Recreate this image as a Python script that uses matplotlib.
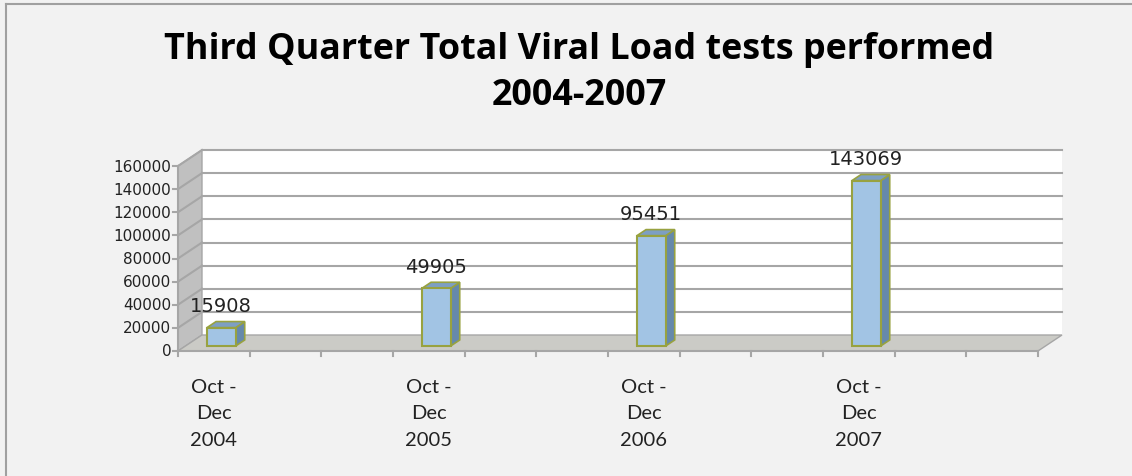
import matplotlib
matplotlib.use("Agg")
import matplotlib.pyplot as plt
import matplotlib.transforms as mtransforms
from matplotlib.patches import Polygon
from matplotlib.lines import Line2D

# data: 12 slots on the category axis, only every third one is used
categories = ["Oct -\nDec\n2004", "", "", "Oct -\nDec\n2005", "", "",
              "Oct -\nDec\n2006", "", "", "Oct -\nDec\n2007", "", ""]
values = [15908, None, None, 49905, None, None, 95451, None, None, 143069, None, None]
yticks = [0, 20000, 40000, 60000, 80000, 100000, 120000, 140000, 160000]
title_lines = ["Third Quarter Total Viral Load tests performed", "2004-2007"]

BG = "#f2f2f2"
GRID = "#a6a6a6"
FRONT = "#a2c4e4"
SIDE = "#6689ab"
TOP = "#7d9fc3"
EDGE = "#98a240"
W, H = 1132, 477

fig = plt.figure(figsize=(W / 100, H / 100), dpi=100, facecolor=BG)

# chart frame (top and left visible)
fig.add_artist(Line2D([6/W, 6/W], [0, 1 - 5/H], color="#a0a0a0", lw=1.5))
fig.add_artist(Line2D([6/W, 1.0], [1 - 5/H, 1 - 5/H], color="#a0a0a0", lw=1.5))

ax = fig.add_axes([178/W, 1 - 352/H, 860/W, 185/H])
n = len(categories)
ymax = yticks[-1]
ax.set_xlim(0, n)
ax.set_ylim(0, ymax)
ax.axis("off")

# depth of the 3D box in data units
ddx = 24 / 860 * n
ddy = 16 / 185 * ymax

# back wall
ax.add_patch(Polygon([(ddx, ddy), (n + ddx, ddy), (n + ddx, ymax + ddy), (ddx, ymax + ddy)],
                     closed=True, facecolor="white", edgecolor="none", clip_on=False, zorder=1))
# left wall
ax.add_patch(Polygon([(0, 0), (ddx, ddy), (ddx, ymax + ddy), (0, ymax)],
                     closed=True, facecolor="#c0c0c0", edgecolor="#a6a6a6", lw=1, clip_on=False, zorder=1))
# floor
ax.add_patch(Polygon([(0, 0), (n, 0), (n + ddx, ddy), (ddx, ddy)],
                     closed=True, facecolor="#cbcbc6", edgecolor="#a6a6a6", lw=1, clip_on=False, zorder=1))

# gridlines on back and left walls
for t in yticks[1:]:
    ax.plot([ddx, n + ddx], [t + ddy, t + ddy], color=GRID, lw=1.5, clip_on=False, zorder=2)
    ax.plot([0, ddx], [t, t + ddy], color=GRID, lw=1.5, clip_on=False, zorder=2)

# axis lines and ticks
ax.plot([0, 0], [0, ymax], color=GRID, lw=1.5, clip_on=False, zorder=3)
ax.plot([0, n], [0, 0], color=GRID, lw=1.5, clip_on=False, zorder=3)
tick_dx = 5 / 860 * n
tick_dy = 5 / 185 * ymax
for t in yticks:
    ax.plot([-tick_dx, 0], [t, t], color=GRID, lw=1.5, clip_on=False, zorder=3)
    ax.text(-tick_dx * 1.3, t, f"{t}", ha="right", va="center", fontsize=11,
            family="DejaVu Sans", color="#222222")
for i in range(n + 1):
    ax.plot([i, i], [0, -tick_dy], color=GRID, lw=1.5, clip_on=False, zorder=3)

# category labels, one text per line
lab_tr = mtransforms.blended_transform_factory(ax.transData, fig.transFigure)
line_y = [388, 414, 441]
for i, lab in enumerate(categories):
    if not lab:
        continue
    for j, part in enumerate(lab.split("\n")):
        ax.text(i + 0.5, 1 - line_y[j] / H, part, transform=lab_tr, ha="center", va="center",
                fontsize=14.5, family="Lato", color="#222222")

# 3D bars
w = 0.4
d0 = 0.31   # front of bar, as fraction of box depth
d1 = 0.69   # back of bar
for i, v in enumerate(values):
    if v is None:
        continue
    x0 = i + 0.5 - w / 2 + d0 * ddx
    x1 = x0 + w
    y0 = d0 * ddy
    y1 = v + d0 * ddy
    bx = (d1 - d0) * ddx
    by = (d1 - d0) * ddy
    ax.add_patch(Polygon([(x1, y0), (x1 + bx, y0 + by), (x1 + bx, y1 + by), (x1, y1)],
                         closed=True, facecolor=SIDE, edgecolor=EDGE, lw=1.2, clip_on=False, zorder=5))
    ax.add_patch(Polygon([(x0, y1), (x1, y1), (x1 + bx, y1 + by), (x0 + bx, y1 + by)],
                         closed=True, facecolor=TOP, edgecolor=EDGE, lw=1.2, clip_on=False, zorder=5))
    ax.add_patch(Polygon([(x0, y0), (x1, y0), (x1, y1), (x0, y1)],
                         closed=True, facecolor=FRONT, edgecolor=EDGE, lw=1.5, clip_on=False, zorder=6))
    ax.text(i + 0.5 + 0.3 * ddx, y1 + by + 0.035 * ymax, f"{v}", ha="center", va="bottom",
            fontsize=14, family="DejaVu Sans", color="#222222", zorder=7)

title_y = [59, 105]
for j, line in enumerate(title_lines):
    fig.text(579 / W, 1 - title_y[j] / H, line, ha="center", va="baseline", fontsize=25.8,
             family="Open Sans", weight="bold", color="black")

fig.savefig("out.png", dpi=100, facecolor=BG)
